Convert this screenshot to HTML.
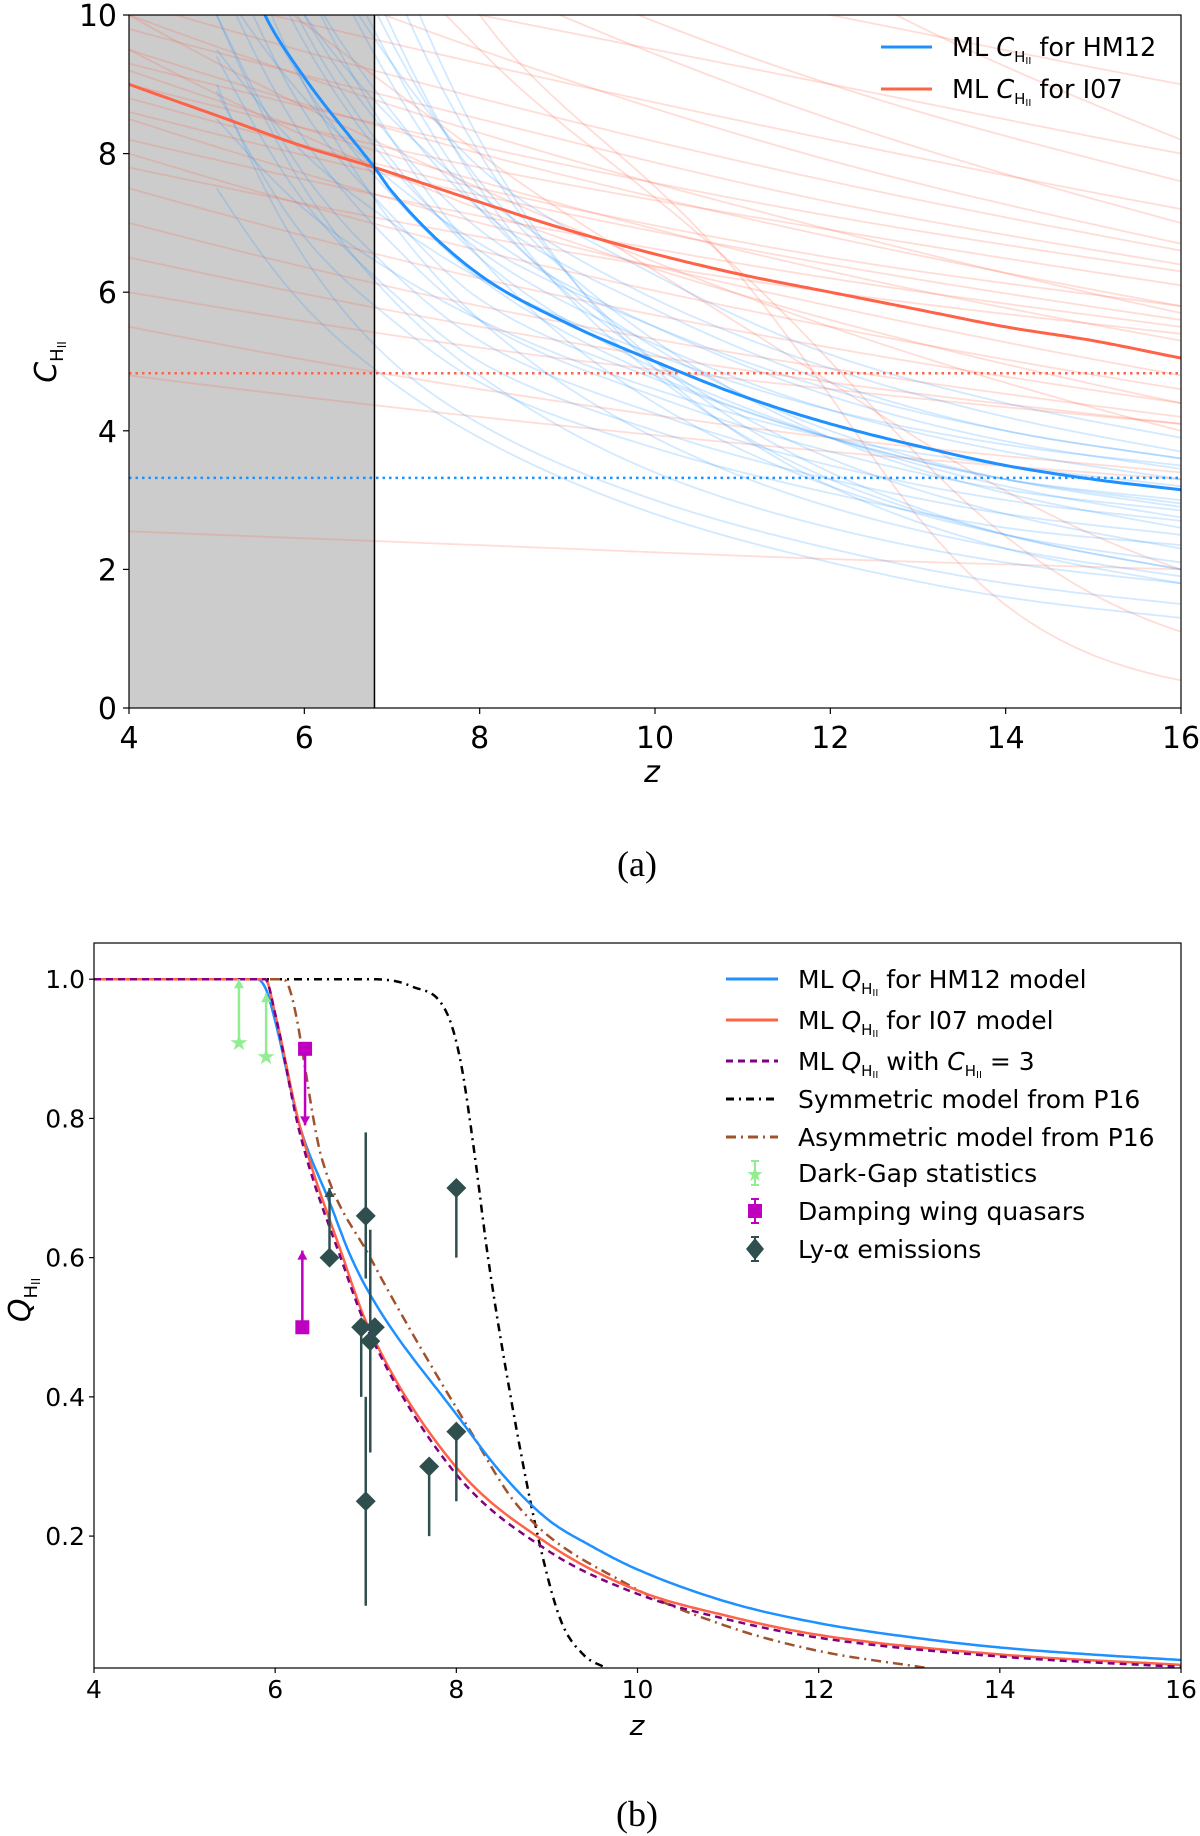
<!DOCTYPE html>
<html><head><meta charset="utf-8"><style>
html,body{margin:0;padding:0;background:#fff;}
svg{display:block;font-family:"DejaVu Sans","Liberation Sans",sans-serif;}
</style></head><body>
<svg id="fig" width="1200" height="1836" viewBox="0 0 1200 1836">
<defs>
<clipPath id="clipA"><rect x="129" y="15" width="1052" height="693"/></clipPath>
<clipPath id="clipB"><rect x="94" y="943" width="1087" height="725"/></clipPath>
</defs>
<g id="panelA"></g>
<g id="panelB"></g>
</svg>
<script>
// ---------- Panel (a) data ----------
const aXTicks = [4,6,8,10,12,14,16];
const aYTicks = [0,2,4,6,8,10];
const shadeEnd = 6.8;
const mlHMz = [4.6,5.0,5.55,6.0,6.8,7.0,8.0,9.0,10,11,12,13,14,15,16];
const mlHMc = [13.5,11.8,10.0,9.1,7.8,7.45,6.25,5.55,5.0,4.5,4.1,3.78,3.5,3.3,3.15];
const mlI07z = [4,5,6,6.8,8,9,10,11,12,13,14,15,16];
const mlI07c = [9.0,8.55,8.1,7.8,7.3,6.9,6.55,6.25,6.0,5.75,5.5,5.3,5.05];
const dotRed = 4.83;
const dotBlue = 3.32;
const ensBlueZ = [5,6,7,8,10,12,14,16];
const ensBlue = [
[8.9,6.8,5.6,4.7,3.75,3.1,2.6,2.35],[9.4,7.3,6.0,5.0,4.0,3.3,2.8,2.5],[10,7.7,6.3,5.3,4.25,3.5,3.0,2.7],
[10.6,8.2,6.7,5.6,4.5,3.7,3.15,2.85],[11.2,8.6,7.1,5.9,4.75,3.9,3.3,3.0],[12.4,9.6,7.8,6.6,5.25,4.3,3.7,3.3],
[13,10,8.2,6.9,5.5,4.5,3.85,3.45],[13.6,10.5,8.6,7.2,5.75,4.7,4.0,3.6],[14.8,11.4,9.3,7.8,6.25,5.1,4.4,3.9],
[16,12,9.3,7.3,5.0,3.6,2.8,2.3],[18,13,9.8,7.5,4.8,3.3,2.5,2.0],[14,10.5,8.2,6.5,4.4,3.2,2.5,2.1],
[20,14.5,10.5,8.0,5.0,3.4,2.5,2.0],[12,9,7,5.6,3.9,2.9,2.3,1.9],[22,15,11,8.2,4.9,3.2,2.3,1.8],
[10,7.5,5.9,4.8,3.4,2.6,2.1,1.8],[9.5,8.0,7.0,6.2,5.1,4.3,3.8,3.5],[10.5,8.8,7.6,6.7,5.5,4.6,4.0,3.6],
[8.5,7.2,6.3,5.6,4.6,3.9,3.5,3.2],[12,10,8.5,7.4,5.9,4.9,4.2,3.7],[9,6.5,5.0,4.1,3.0,2.3,1.8,1.5],
[7.5,5.8,4.7,3.9,2.8,2.1,1.6,1.3],[15,11.5,9.0,7.2,5.2,4.0,3.3,2.9],[11.5,9.0,7.4,6.2,4.8,3.9,3.3,2.95],
[17,12.5,9.6,7.6,5.3,3.9,3.1,2.6],[12.8,9.8,7.9,6.5,4.9,3.9,3.2,2.75]
];
const ensRedZ = [4,8,12,16];
const ensRed = [
[9.8,8.5,7.3,6.4],[9.5,8.0,6.8,5.8],[10.5,9.3,8.2,7.2],[11,10,9,8.0],[12,11,10,9],[9.2,7.6,6.3,5.3],
[8.5,7.0,5.8,4.8],[8.0,6.6,5.5,4.6],[7.5,6.2,5.2,4.4],[7.0,5.8,4.9,4.2],[6.5,5.5,4.7,4.1],[10,8.3,6.9,5.7],
[9.0,7.8,6.9,6.1],[8.8,7.5,6.5,5.8],[11.5,9.5,7.9,6.7],[13,10.5,8.5,7.0],[7.8,6.8,6.0,5.4],[6.0,5.2,4.6,4.1],
[5.5,4.6,3.9,3.4],[4.8,4.2,3.7,3.3],[2.55,2.35,2.15,2.0],[10,7.5,5.5,4.0],[12,8,4.7,2.0],[15,9.5,5,1.1],
[18,10,4.5,0.4],[14,11,9,7.6],[9.5,7.2,5.6,4.4],[20,14,10.5,8.2],[8.2,7.1,6.2,5.5],[9.3,8.1,7.1,6.3],
[10.2,8.8,7.6,6.6],[8.6,7.4,6.4,5.6]
];
// ---------- Panel (b) data ----------
const bXTicks = [4,6,8,10,12,14,16];
const bYTicks = [0.2,0.4,0.6,0.8,1.0];
const hmZ = [4,5.8,5.9,6.0,6.27,6.6,6.84,7.14,8.0,8.5,9.0,9.5,10,11,12,13,14,15,16];
const hmQ = [1,1,0.985,0.94,0.79,0.68,0.6,0.527,0.375,0.29,0.225,0.185,0.152,0.105,0.075,0.055,0.04,0.03,0.022];
const i07Z = [4,5.89,6.0,6.27,6.75,7.01,7.96,9,10,11,12,14,16];
const i07Q = [1,1,0.95,0.79,0.6,0.506,0.305,0.19,0.122,0.085,0.058,0.03,0.015];
const c3Z = [4,5.89,6.0,6.27,6.75,7.01,7.96,9,10,11,12,14,16];
const c3Q = [1,1,0.95,0.78,0.59,0.5,0.295,0.18,0.117,0.08,0.054,0.027,0.012];
const symZ = [4,7,7.5,7.9,8.05,8.2,8.35,8.6,8.9,9.15,9.4,9.65];
const symQ = [1,1,0.99,0.95,0.88,0.75,0.6,0.4,0.2,0.08,0.03,0.0105];
const asymZ = [4,6.09,6.52,7.05,8.15,8.7,9.9,11,12,13.2];
const asymQ = [1,1,0.74,0.6,0.352,0.24,0.13,0.07,0.035,0.0105];
const dgZ = [5.6,5.9];
const dgQ = [0.91,0.89];
const dgHi = [1.0,0.98];
const dwZ = [6.3,6.33];
const dwQ = [0.5,0.9];
const dwEnd = [0.61,0.79];
const lyZ = [6.6,7.0,6.95,7.05,7.1,7.0,7.7,8.0,8.0];
const lyQ = [0.6,0.66,0.5,0.48,0.5,0.25,0.3,0.35,0.7];
const lyLo = [0.6,0.57,0.4,0.32,0.5,0.1,0.2,0.25,0.6];
const lyHi = [0.7,0.78,0.5,0.64,0.5,0.4,0.3,0.35,0.7];
const lyArrow = [true,false,false,false,false,false,false,false,false];

const NS = "http://www.w3.org/2000/svg";
function mk(parent, tag, attrs, text){
  const e = document.createElementNS(NS, tag);
  for (const k in attrs) e.setAttribute(k, attrs[k]);
  if (text !== undefined) e.textContent = text;
  parent.appendChild(e);
  return e;
}
function smoothPts(xs, ysIn, sx, sy, useLog){
  const ys = useLog ? ysIn.map(v=>Math.log(v)) : ysIn.slice();
  const n = xs.length, m = [], d = [];
  for (let i=0;i<n-1;i++) d.push((ys[i+1]-ys[i])/(xs[i+1]-xs[i]));
  for (let i=0;i<n;i++){
    if (i===0) m.push(d[0]); else if (i===n-1) m.push(d[n-2]);
    else m.push(d[i-1]*d[i]<=0 ? 0 : (d[i-1]+d[i])/2);
  }
  for (let i=0;i<n-1;i++){
    if (d[i]===0){m[i]=0;m[i+1]=0;continue;}
    const a=m[i]/d[i], b=m[i+1]/d[i], s=a*a+b*b;
    if (s>9){const t=3/Math.sqrt(s); m[i]=t*a*d[i]; m[i+1]=t*b*d[i];}
  }
  const pts = [];
  const f = v => useLog ? Math.exp(v) : v;
  for (let i=0;i<n-1;i++){
    const h = xs[i+1]-xs[i];
    for (let k=0;k<20;k++){
      const t=k/20, t2=t*t, t3=t2*t;
      const y=(2*t3-3*t2+1)*ys[i]+(t3-2*t2+t)*h*m[i]+(-2*t3+3*t2)*ys[i+1]+(t3-t2)*h*m[i+1];
      pts.push(sx(xs[i]+t*h).toFixed(1)+","+sy(f(y)).toFixed(1));
    }
  }
  pts.push(sx(xs[n-1]).toFixed(1)+","+sy(ysIn[n-1]).toFixed(1));
  return pts.join(" ");
}

// ================= PANEL A =================
(function(){
  const g = document.getElementById('panelA');
  const L=129,R=1181,T=15,B=708;
  const sx = z => L+(z-4)/12*(R-L);
  const sy = c => B-c/10*(B-T);
  let e = mk(g,"rect",{x:L,y:T,width:sx(shadeEnd)-L,height:B-T,fill:"#cccccc"});
  
  
  const cg = mk(g,"g",{"clip-path":"url(#clipA)"});
  ensRed.forEach(v=>{
    const p = mk(cg,"polyline",{points:smoothPts(ensRedZ,v,sx,sy,true),fill:"none",stroke:"#ff6347","stroke-opacity":"0.22","stroke-width":"1.8"});
    
    
  });
  ensBlue.forEach(v=>{
    const p = mk(cg,"polyline",{points:smoothPts(ensBlueZ,v,sx,sy,true),fill:"none",stroke:"#1e90ff","stroke-opacity":"0.2","stroke-width":"1.8"});
    
    
  });
  e = mk(cg,"line",{x1:L,x2:R,y1:sy(dotRed),y2:sy(dotRed),stroke:"#ff6347","stroke-width":"2.5","stroke-dasharray":"2.5,4"});
  
  
  e = mk(cg,"line",{x1:L,x2:R,y1:sy(dotBlue),y2:sy(dotBlue),stroke:"#1e90ff","stroke-width":"2.5","stroke-dasharray":"2.5,4"});
  
  
  e = mk(cg,"polyline",{points:smoothPts(mlI07z,mlI07c,sx,sy,true),fill:"none",stroke:"#ff6347","stroke-width":"3"});
  
  
  e = mk(cg,"polyline",{points:smoothPts(mlHMz,mlHMc,sx,sy,true),fill:"none",stroke:"#1e90ff","stroke-width":"3"});
  
  
  e = mk(g,"line",{x1:sx(shadeEnd),x2:sx(shadeEnd),y1:T,y2:B,stroke:"#000","stroke-width":"1.5"});
  
  
  e = mk(g,"rect",{x:L,y:T,width:R-L,height:B-T,fill:"none",stroke:"#000","stroke-width":"1.2"});
  
  
  aXTicks.forEach(v=>{
    mk(g,"line",{x1:sx(v),x2:sx(v),y1:B,y2:B+6,stroke:"#000","stroke-width":"1.2"});
    const t = mk(g,"text",{x:sx(v),y:B+40,"font-size":"30","text-anchor":"middle"},String(v));
    
    
  });
  aYTicks.forEach(v=>{
    mk(g,"line",{x1:L-6,x2:L,y1:sy(v),y2:sy(v),stroke:"#000","stroke-width":"1.2"});
    const t = mk(g,"text",{x:L-12,y:sy(v)+11,"font-size":"30","text-anchor":"end"},String(v));
    
    
  });
  e = mk(g,"text",{x:652,y:782,"font-size":"30","font-style":"italic","text-anchor":"middle"},"z");
  
  
  const yt = mk(g,"text",{transform:"translate(56,362) rotate(-90)","font-size":"30","text-anchor":"middle"});
  
  
  mk(yt,"tspan",{"font-style":"italic"},"C");
  mk(yt,"tspan",{"font-size":"18",dy:"7"},"H");
  mk(yt,"tspan",{"font-size":"12",dy:"3"},"II");
  const lg = [["#1e90ff","for HM12",47],["#ff6347","for I07",89]];
  lg.forEach(r=>{
    const le = mk(g,"g",{});
    
    
    mk(le,"line",{x1:881,x2:932,y1:r[2],y2:r[2],stroke:r[0],"stroke-width":"3"});
    const t = mk(le,"text",{x:952,y:r[2]+9,"font-size":"25.5"});
    mk(t,"tspan",{},"ML ");
    mk(t,"tspan",{"font-style":"italic"},"C");
    mk(t,"tspan",{"font-size":"15",dy:"6"},"H");
    mk(t,"tspan",{"font-size":"10",dy:"2"},"II");
    mk(t,"tspan",{dy:"-8"}," "+r[1]);
  });
  e = mk(g,"text",{x:637,y:876,"font-size":"36","font-family":"Liberation Serif, serif","text-anchor":"middle"},"(a)");
  
  
})();

// ================= PANEL B =================
(function(){
  const g = document.getElementById('panelB');
  const L=94,R=1181,T=943,B=1668;
  const yMin=0.0105,yMax=1.052;
  const sx = z => L+(z-4)/12*(R-L);
  const sy = q => B-(q-yMin)/(yMax-yMin)*(B-T);
  const cg = mk(g,"g",{"clip-path":"url(#clipB)"});
  const curves = [
    [symZ,symQ,"#000","8,5,2,5","symmetric-p16-line",2.5],
    [asymZ,asymQ,"#a0522d","10,5,2,5","asymmetric-p16-line",2.5],
    [hmZ,hmQ,"#1e90ff","","ml-q-hm12-line",2.5],
    [i07Z,i07Q,"#ff6347","","ml-q-i07-line",2.5],
    [c3Z,c3Q,"#800080","7,5","ml-q-c3-line",2.5]
  ];
  curves.forEach(c=>{
    const p = mk(cg,"polyline",{points:smoothPts(c[0],c[1],sx,sy,false),fill:"none",stroke:c[2],"stroke-width":c[5]});
    if (c[3]) p.setAttribute("stroke-dasharray",c[3]);
    
    
  });
  dgZ.forEach((z,i)=>{
    const x=sx(z), y0=sy(dgQ[i]), y1=sy(dgHi[i]);
    const pg = mk(g,"g",{});
    
    
    mk(pg,"line",{x1:x,x2:x,y1:y0,y2:y1,stroke:"#90ee90","stroke-width":"2.5"});
    mk(pg,"path",{d:`M${x-5},${y1+9}L${x},${y1}L${x+5},${y1+9}Z`,fill:"#90ee90"});
    mk(pg,"text",{x:x,y:y0+8,"font-size":"22","text-anchor":"middle",fill:"#90ee90"},"★");
  });
  dwZ.forEach((z,i)=>{
    const x=sx(z), y0=sy(dwQ[i]), y1=sy(dwEnd[i]);
    const dir = dwEnd[i]>dwQ[i] ? 1 : -1;
    const pg = mk(g,"g",{});
    
    
    mk(pg,"line",{x1:x,x2:x,y1:y0,y2:y1,stroke:"#c000c0","stroke-width":"2.5"});
    mk(pg,"path",{d:`M${x-5},${y1+9*dir}L${x},${y1}L${x+5},${y1+9*dir}Z`,fill:"#c000c0"});
    mk(pg,"rect",{x:x-7,y:y0-7,width:14,height:14,fill:"#c000c0"});
  });
  lyZ.forEach((z,i)=>{
    const x=sx(z), y=sy(lyQ[i]);
    const pg = mk(g,"g",{});
    
    
    mk(pg,"line",{x1:x,x2:x,y1:sy(lyLo[i]),y2:sy(lyHi[i]),stroke:"#2f4f4f","stroke-width":"2.5"});
    if (lyArrow[i]){
      const yh=sy(lyHi[i]);
      mk(pg,"path",{d:`M${x-5},${yh+9}L${x},${yh}L${x+5},${yh+9}Z`,fill:"#2f4f4f"});
    }
    mk(pg,"path",{d:`M${x},${y-10}L${x+10},${y}L${x},${y+10}L${x-10},${y}Z`,fill:"#2f4f4f"});
  });
  let e = mk(g,"rect",{x:L,y:T,width:R-L,height:B-T,fill:"none",stroke:"#000","stroke-width":"1.2"});
  
  
  bXTicks.forEach(v=>{
    mk(g,"line",{x1:sx(v),x2:sx(v),y1:B,y2:B+5,stroke:"#000","stroke-width":"1.2"});
    const t = mk(g,"text",{x:sx(v),y:B+30,"font-size":"25","text-anchor":"middle"},String(v));
    
    
  });
  bYTicks.forEach(v=>{
    mk(g,"line",{x1:L-5,x2:L,y1:sy(v),y2:sy(v),stroke:"#000","stroke-width":"1.2"});
    const t = mk(g,"text",{x:L-9,y:sy(v)+9,"font-size":"25","text-anchor":"end"},v.toFixed(1));
    
    
  });
  e = mk(g,"text",{x:637,y:1735,"font-size":"28","font-style":"italic","text-anchor":"middle"},"z");
  
  
  const yt = mk(g,"text",{transform:"translate(30,1300) rotate(-90)","font-size":"30","text-anchor":"middle"});
  
  
  mk(yt,"tspan",{"font-style":"italic"},"Q");
  mk(yt,"tspan",{"font-size":"18",dy:"7"},"H");
  mk(yt,"tspan",{"font-size":"12",dy:"3"},"II");
  const rows = [
    ["line","#1e90ff","","ml1",979],["line","#ff6347","","ml2",1020],["line","#800080","7,5","ml3",1061],
    ["line","#000","8,5,2,5","Symmetric model from P16",1099],["line","#a0522d","10,5,2,5","Asymmetric model from P16",1137],
    ["star","#90ee90","","Dark-Gap statistics",1173],["sq","#c000c0","","Damping wing quasars",1211],
    ["dia","#2f4f4f","","Ly-α emissions",1249]
  ];
  rows.forEach(r=>{
    const le = mk(g,"g",{});
    
    
    const y=r[4], cx=755;
    if (r[0]==="line"){
      const l = mk(le,"line",{x1:726,x2:778,y1:y,y2:y,stroke:r[1],"stroke-width":"3"});
      if (r[2]) l.setAttribute("stroke-dasharray",r[2]);
    } else {
      mk(le,"line",{x1:cx,x2:cx,y1:y-12,y2:y+12,stroke:r[1],"stroke-width":"2"});
      mk(le,"line",{x1:cx-4,x2:cx+4,y1:y-12,y2:y-12,stroke:r[1],"stroke-width":"2"});
      mk(le,"line",{x1:cx-4,x2:cx+4,y1:y+12,y2:y+12,stroke:r[1],"stroke-width":"2"});
      if (r[0]==="star") mk(le,"text",{x:cx,y:y+8,"font-size":"20","text-anchor":"middle",fill:r[1]},"★");
      if (r[0]==="sq") mk(le,"rect",{x:cx-7,y:y-7,width:14,height:14,fill:r[1]});
      if (r[0]==="dia") mk(le,"path",{d:`M${cx},${y-11}L${cx+9},${y}L${cx},${y+11}L${cx-9},${y}Z`,fill:r[1]});
    }
    const t = mk(le,"text",{x:798,y:y+9,"font-size":"25"});
    if (r[3]==="ml1"||r[3]==="ml2"||r[3]==="ml3"){
      mk(t,"tspan",{},"ML ");
      mk(t,"tspan",{"font-style":"italic"},"Q");
      mk(t,"tspan",{"font-size":"15",dy:"6"},"H");
      mk(t,"tspan",{"font-size":"10",dy:"2"},"II");
      if (r[3]==="ml1") mk(t,"tspan",{dy:"-8"}," for HM12 model");
      if (r[3]==="ml2") mk(t,"tspan",{dy:"-8"}," for I07 model");
      if (r[3]==="ml3"){
        mk(t,"tspan",{dy:"-8"}," with ");
        mk(t,"tspan",{"font-style":"italic"},"C");
        mk(t,"tspan",{"font-size":"15",dy:"6"},"H");
        mk(t,"tspan",{"font-size":"10",dy:"2"},"II");
        mk(t,"tspan",{dy:"-8"}," = 3");
      }
    } else {
      t.textContent = r[3];
    }
  });
  e = mk(g,"text",{x:637,y:1826,"font-size":"36","font-family":"Liberation Serif, serif","text-anchor":"middle"},"(b)");
  
  
})();
</script>
</body></html>
